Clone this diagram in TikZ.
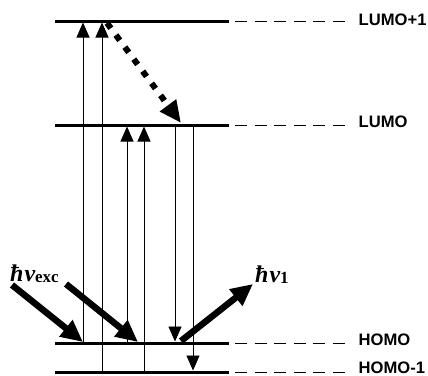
\documentclass[tikz,border=0pt]{standalone}
\usepackage{fontspec}
\setmainfont{Liberation Serif}
\setsansfont{Liberation Sans}
\usetikzlibrary{arrows.meta}

\begin{document}
\begin{tikzpicture}[
  x=1pt, y=-1pt,
  level/.style={line width=3pt},
  guide/.style={line width=0.9pt, dash pattern=on 12pt off 7.6pt},
  orbital/.style={anchor=base west, inner sep=0pt, font=\sffamily\bfseries\fontsize{16.6}{16.6}\selectfont},
  trans/.style={-{Triangle[width=13pt,length=15pt]}, line width=0.9pt},
  photon/.style={-{Triangle[width=20pt,length=22pt]}, line width=6.5pt},
  relax/.style={-{Triangle[width=19pt,length=22pt]}, line width=6pt, dash pattern=on 6.5pt off 8.5pt},
  energy/.style={anchor=base west, inner sep=0pt}
]
\useasboundingbox (0,0) rectangle (428,375);
% levels
\coordinate (lp1W) at (55,21);  \coordinate (lp1E) at (229,21);
\coordinate (lumoW) at (55,125); \coordinate (lumoE) at (229,125);
\coordinate (homoW) at (55,343); \coordinate (homoE) at (229,343);
\coordinate (hm1W) at (55,372);  \coordinate (hm1E) at (229,372);
\node[orbital] (lp1) at (358.5,25.5) {LUMO+1};
\node[orbital] (lumo) at (358.5,127.5) {LUMO};
\node[orbital] (homo) at (358.5,345.5) {HOMO};
\node[orbital] (hm1) at (358.5,373) {HOMO-1};
\foreach \lv in {lp1, lumo, homo, hm1} {
  \draw[level] (\lv W) -- (\lv E);
  \draw[guide] ([xshift=6pt]\lv E) -- ([xshift=116pt]\lv E);
}
% transitions
\coordinate (t1) at (83,0);  \coordinate (t2) at (102,0);
\coordinate (t3) at (127,0); \coordinate (t4) at (144,0);
\coordinate (t5) at (175,0); \coordinate (t6) at (193,0);
\draw[trans, shorten >=1.5pt] (t1|-homoW) -- (t1|-lp1W);
\draw[trans, shorten >=1.5pt] (t2|-hm1W) -- (t2|-lp1W);
\draw[trans, shorten >=1.5pt] (t3|-homoW) -- (t3|-lumoW);
\draw[trans, shorten >=1.5pt] (t4|-hm1W) -- (t4|-lumoW);
\draw[trans, shorten >=1.5pt] (t5|-lumoW) -- (t5|-homoW);
\draw[trans, shorten >=1.5pt] (t6|-lumoW) -- (t6|-hm1W);
% relaxation
\coordinate (r0) at (107,23); \coordinate (r1) at (181,123);
\draw[relax] (r0) -- (r1);
% photons
\node[energy] (exc) at (10,281) {\fontsize{24}{24}\selectfont\bfseries\itshape ħ\kern1ptν\raisebox{-1pt}{\upshape\fontsize{17}{17}\selectfont exc}};
\node[energy] (emi) at (255,282) {\fontsize{24}{24}\selectfont\bfseries\itshape ħ\kern1ptν\raisebox{-1pt}{\upshape\fontsize{17}{17}\selectfont 1}};
\coordinate (p1) at (12,285); \coordinate (p2) at (66,284); \coordinate (p3) at (181,341);
\coordinate (q1) at (83,342); \coordinate (q2) at (138,342); \coordinate (q3) at (253,284);
\draw[photon] (p1) -- (q1);
\draw[photon] (p2) -- (q2);
\draw[photon] (p3) -- (q3);
\end{tikzpicture}
\end{document}
